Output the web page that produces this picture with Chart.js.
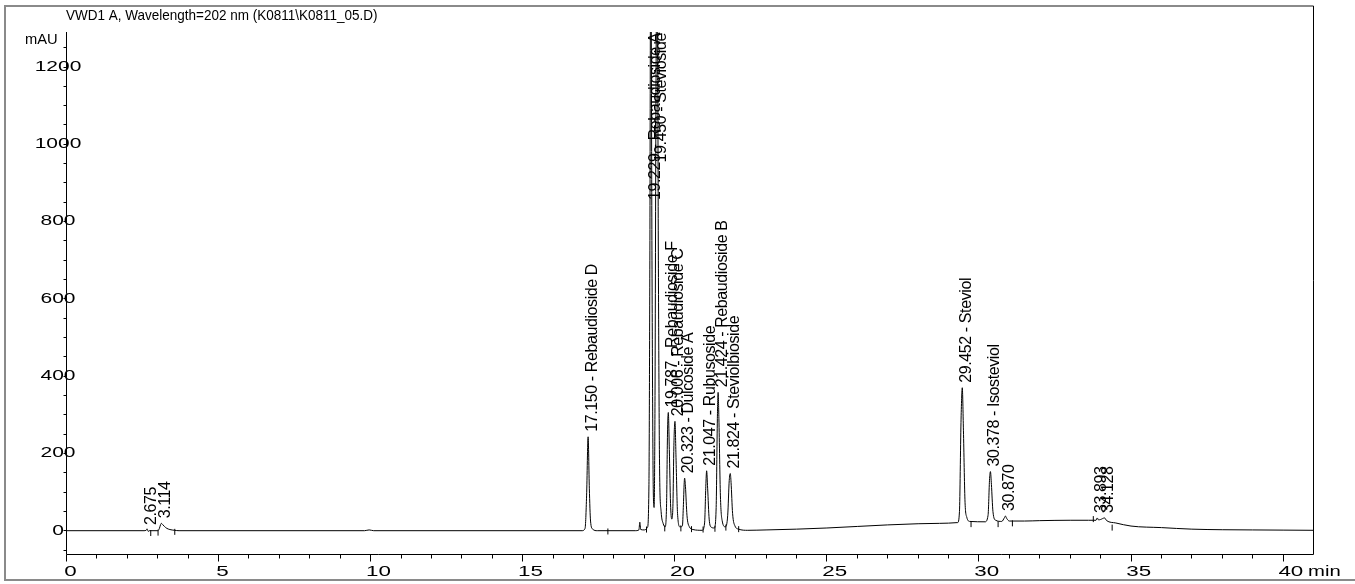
<!DOCTYPE html>
<html>
<head>
<meta charset="utf-8">
<title>VWD1 A, Wavelength=202 nm</title>
<script src="https://cdn.jsdelivr.net/npm/chart.js@4/dist/chart.umd.min.js"></script>
<style>
  body { margin: 0; background: #fff; }
  canvas { display: block; }
</style>
</head>
<body>
<canvas id="chromChart" width="1355" height="584"></canvas>
<script>
// signal trace (min, mAU)
const traceTime = [
    0, 2.55, 2.62, 2.65, 2.67, 2.69, 2.72, 3.00, 3.05, 3.09, 3.12, 3.16, 3.22, 3.30, 3.40, 3.55, 3.70,
    9.80, 9.95, 10.10,
    16.95, 17.05, 17.10, 17.15, 17.19, 17.23, 17.30, 17.45,
    18.70, 18.82, 18.85, 18.88, 19.00,
    19.10, 19.15, 19.18, 19.21, 19.25, 19.29, 19.32, 19.35, 19.38, 19.42, 19.46, 19.50, 19.55, 19.62,
    19.68, 19.73, 19.76, 19.787, 19.82, 19.86, 19.90, 19.94, 19.97, 20.006, 20.04, 20.09, 20.17,
    20.25, 20.28, 20.31, 20.323, 20.35, 20.40, 20.48, 20.60, 20.90,
    20.98, 21.02, 21.047, 21.08, 21.13, 21.20, 21.30, 21.36, 21.40, 21.424, 21.45, 21.50, 21.56, 21.66,
    21.74, 21.79, 21.824, 21.85, 21.90, 21.98, 22.10, 22.40,
    23, 24, 25, 26, 27, 28, 28.7,
    29.30, 29.36, 29.41, 29.452, 29.49, 29.54, 29.60, 29.70,
    30.20, 30.30, 30.35, 30.378, 30.41, 30.46, 30.55, 30.75, 30.84, 30.87, 30.91, 31.00,
    31.5, 32, 33, 33.6, 33.85, 33.89, 33.93, 34.00, 34.13, 34.20, 34.5,
    35, 36, 37, 38, 39, 40, 41
];
const traceSignal = [
    0, 0, 1, 5, 1, -2, 0, 0, 5, 15, 19, 16, 11, 6, 3, 1, 0,
    0, 2, 0,
    0, 6, 90, 243, 110, 25, 4, 0,
    0, 2, 22, 3, 2,
    8, 120, 700, 1600, 700, 120, 60, 350, 1100, 1600, 700, 160, 50, 18,
    10, 70, 250, 306, 210, 70, 30, 70, 220, 283, 190, 45, 10,
    12, 60, 125, 136, 115, 40, 10, 3, 1,
    20, 115, 155, 110, 30, 9, 7, 60, 290, 358, 290, 90, 25, 10,
    40, 130, 148, 125, 45, 12, 4, 1,
    2, 4, 7, 11, 15, 18, 19,
    21, 50, 280, 370, 260, 80, 35, 24,
    23, 40, 135, 153, 120, 50, 27, 24, 34, 38, 32, 25,
    25, 26, 27, 27, 27, 33, 28, 29, 33, 26, 20,
    12, 8, 4, 2.5, 2, 1.5, 1
];

// peak annotations
const peakTimes = [2.675, 3.114, 17.150, 19.229, 19.450, 19.787, 20.006, 20.323, 21.047, 21.424, 21.824, 29.452, 30.378, 30.870, 33.893, 34.128];
const peakTops = [2, 19, 243, 1600, 1600, 306, 283, 136, 155, 358, 148, 370, 153, 38, 33, 33];
const peakNames = ["", "", "Rebaudioside D", "Rebaudioside A", "Stevioside", "Rebaudioside F", "Rebaudioside C",
    "Dulcoside A", "Rubusoside", "Rebaudioside B", "Steviolbioside", "Steviol", "Isosteviol", "", "", ""];

// integration start/end marks
const markerTimes = [2.77, 3.01, 3.56, 17.80, 19.07, 19.67, 20.20, 20.55, 20.93, 21.32, 21.68, 22.10, 29.74, 30.63, 31.10, 33.76, 34.38];
const markerSignal = [-6, -5, -3, -2, 3, 6, 6, 4, 3, 5, 8, 4, 17, 17, 19, 30, 8];

const xTickLabels = ["0", "5", "10", "15", "20", "25", "30", "35", "40"];
const yTickLabels = ["0", "200", "400", "600", "800", "1000", "1200"];

const titleText = "VWD1 A, Wavelength=202 nm (K0811\\K0811_05.D)";
const FAMILY = "'Liberation Sans', Arial, sans-serif";

// tick numbers come out wider than normal in the export
function wideText(ctx, text, left, y, sx) {
    ctx.save();
    ctx.translate(left, y);
    ctx.scale(sx, 1);
    ctx.textAlign = "left";
    ctx.fillText(text, 0, 0);
    ctx.restore();
}

const chromAxes = {
    id: "chromAxes",
    beforeDatasetsDraw(chart) {
        const ctx = chart.ctx;
        const area = chart.chartArea;
        const xs = chart.scales.x;
        const ys = chart.scales.y;

        ctx.save();
        // outer frame
        ctx.strokeStyle = "#8a8a8a";
        ctx.lineWidth = 2;
        ctx.beginPath();
        ctx.moveTo(5, 580);
        ctx.lineTo(5, 6);
        ctx.lineTo(area.right, 6);
        ctx.moveTo(4, 580);
        ctx.lineTo(1355, 580);
        ctx.stroke();

        ctx.strokeStyle = "#000";
        ctx.lineWidth = 1;
        ctx.beginPath();
        ctx.moveTo(area.right, 6);
        ctx.lineTo(area.right, area.bottom);
        ctx.moveTo(area.left, area.top);
        ctx.lineTo(area.left, area.bottom);
        ctx.lineTo(area.right, area.bottom);

        for (let t = 0; t <= 40; t++) {
            const px = Math.floor(xs.getPixelForValue(t)) + 0.5;
            ctx.moveTo(px, area.bottom);
            ctx.lineTo(px, area.bottom + (t % 5 === 0 ? 7 : 4));
        }
        for (let v = -50; v <= 1250; v += 50) {
            const py = Math.floor(ys.getPixelForValue(v)) + 0.5;
            ctx.moveTo(area.left - 3, py);
            ctx.lineTo(area.left, py);
        }
        ctx.stroke();

        ctx.fillStyle = "#000";
        ctx.textBaseline = "middle";
        ctx.font = "14px " + FAMILY;
        xTickLabels.forEach(function(lbl) {
            const px = xs.getPixelForValue(parseFloat(lbl));
            const w = ctx.measureText(lbl).width;
            wideText(ctx, lbl, px - w * 0.3, 572, 1.6);
        });
        wideText(ctx, "min", 1308, 572, 1.45);

        yTickLabels.forEach(function(lbl) {
            const py = ys.getPixelForValue(parseFloat(lbl));
            const w = ctx.measureText(lbl).width * 1.5;
            wideText(ctx, lbl, 58 - w / 2, py, 1.5);
        });
        wideText(ctx, "mAU", 25, 40, 1.05);
        ctx.font = "15px " + FAMILY;
        wideText(ctx, titleText, 66, 16, 0.9);
        ctx.restore();
    },
    afterDatasetsDraw(chart) {
        const ctx = chart.ctx;
        const area = chart.chartArea;
        const xs = chart.scales.x;
        const ys = chart.scales.y;

        ctx.save();
        ctx.fillStyle = "#000";
        ctx.font = "16px " + FAMILY;
        ctx.letterSpacing = "-0.4px";
        ctx.textBaseline = "middle";
        ctx.textAlign = "left";
        for (let i = 0; i < peakTimes.length; i++) {
            const label = peakTimes[i].toFixed(3) + (peakNames[i] ? " - " + peakNames[i] : "");
            const w = ctx.measureText(label).width;
            const px = xs.getPixelForValue(peakTimes[i]) + 4;
            let start = ys.getPixelForValue(peakTops[i]) - 5;
            if (start - w < area.top + 1) start = area.top + 1 + w;
            ctx.save();
            ctx.translate(px, start);
            ctx.rotate(-Math.PI / 2);
            ctx.fillText(label, 0, 0);
            ctx.restore();
        }
        ctx.restore();
    }
};

const ctx = document.getElementById("chromChart").getContext("2d");

new Chart(ctx, {
    type: "line",
    data: {
        datasets: [{
            label: "VWD1 A",
            data: traceTime.map(function(t, i) { return { x: t, y: traceSignal[i] }; }),
            borderColor: "#000",
            borderWidth: 1,
            pointRadius: 0,
            cubicInterpolationMode: "monotone",
            fill: false
        }, {
            label: "marks",
            data: markerTimes.map(function(t, i) { return { x: t, y: markerSignal[i] }; }),
            showLine: false,
            pointStyle: "line",
            rotation: 90,
            pointRadius: 3,
            borderColor: "#000",
            borderWidth: 1
        }]
    },
    options: {
        responsive: false,
        animation: false,
        layout: {
            padding: { left: 66.5, right: 41.5, top: 32, bottom: 29.5 }
        },
        plugins: {
            legend: { display: false },
            tooltip: { enabled: false }
        },
        scales: {
            x: { type: "linear", min: 0, max: 41, display: false },
            y: { type: "linear", min: -61.6, max: 1290.6, display: false }
        }
    },
    plugins: [chromAxes]
});
</script>
</body>
</html>
